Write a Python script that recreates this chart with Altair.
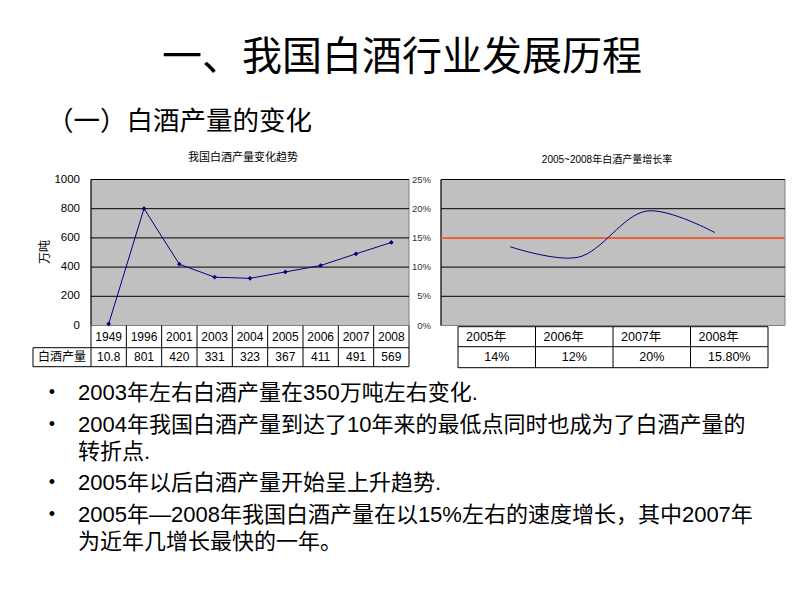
import altair as alt
import pandas as pd

# ---------------- data ----------------
years = ["1949", "1996", "2001", "2003", "2004", "2005", "2006", "2007", "2008"]
production = [10.8, 801, 420, 331, 323, 367, 411, 491, 569]
production_labels = ["10.8", "801", "420", "331", "323", "367", "411", "491", "569"]
prod_ticks = [0, 200, 400, 600, 800, 1000]

growth_years = [2005, 2006, 2007, 2008]
growth_curve = [13.5, 11.7, 19.6, 15.9]
growth_cols = ["2005年", "2006年", "2007年", "2008年"]
growth_labels = ["14%", "12%", "20%", "15.80%"]
pct_ticks = [0, 5, 10, 15, 20, 25]
reference_rate = 15

bullets = [
    ("•", "2003年左右白酒产量在350万吨左右变化."),
    ("•", "2004年我国白酒产量到达了10年来的最低点同时也成为了白酒产量的"),
    ("", "转折点."),
    ("•", "2005年以后白酒产量开始呈上升趋势."),
    ("•", "2005年—2008年我国白酒产量在以15%左右的速度增长，其中2007年"),
    ("", "为近年几增长最快的一年。"),
]

FONT = "Liberation Sans, Noto Sans CJK SC"
CJK = "Noto Sans CJK SC"

# ---------------- layout ----------------
TOP, BOT = 179.5, 325.5
L_X0, L_X1 = 91, 409
R_X0, R_X1 = 441, 785
LT_ROW1, LT_ROW2 = 347.7, 366.7
LT_LABEL_X = 33
RT_Y0, RT_Y1, RT_Y2 = 326.7, 346.7, 367.7
RT_X0, RT_X1 = 458, 768
CURVE_X0, CURVE_X1 = 510, 715

n = len(years)
lx = alt.Scale(domain=[0, n], range=[L_X0, L_X1])
ly = alt.Scale(domain=[0, 1000], range=[BOT, TOP])
rfx = alt.Scale(domain=[0, 1], range=[R_X0, R_X1])
rcx = alt.Scale(domain=[growth_years[0], growth_years[-1]], range=[CURVE_X0, CURVE_X1])
ry = alt.Scale(domain=[0, 25], range=[BOT, TOP])
m = len(growth_cols)
rtx = alt.Scale(domain=[0, m], range=[RT_X0, RT_X1])

layers = []


def label(text, x, y, size, align="center", angle=0, font=FONT, color="black", weight="normal"):
    return alt.Chart(pd.DataFrame({"t": [text]})).mark_text(
        align=align, baseline="middle", fontSize=size, angle=angle, font=font,
        color=color, fontWeight=weight
    ).encode(x=alt.value(x), y=alt.value(y), text="t:N")


# ---------- titles ----------
layers.append(label("一、我国白酒行业发展历程", 402, 58, 40, font=CJK))
layers.append(label("（一）白酒产量的变化", 47, 122, 26.5, align="left", font=CJK))

# ---------- left chart ----------
layers.append(label("我国白酒产量变化趋势", 243, 158, 11, font=CJK))
layers.append(label("万吨", 45, 252, 12, angle=270, font=CJK))

bg_l = pd.DataFrame({"a": [0], "b": [n], "lo": [0], "hi": [1000]})
layers.append(alt.Chart(bg_l).mark_rect(fill="#c0c0c0", stroke="#808080", strokeWidth=1).encode(
    x=alt.X("a:Q", scale=lx, axis=None), x2="b:Q",
    y=alt.Y("lo:Q", scale=ly, axis=None), y2="hi:Q"))

grid_l = pd.DataFrame({"v": prod_ticks[1:], "a": 0, "b": n})
layers.append(alt.Chart(grid_l).mark_rule(color="black", strokeWidth=1).encode(
    x=alt.X("a:Q", scale=lx, axis=None), x2="b:Q",
    y=alt.Y("v:Q", scale=ly, axis=None)))
# left axis line
layers.append(alt.Chart(pd.DataFrame({"a": [0], "lo": [0], "hi": [1000]})).mark_rule(color="black").encode(
    x=alt.X("a:Q", scale=lx, axis=None),
    y=alt.Y("lo:Q", scale=ly, axis=None), y2="hi:Q"))

ticks_l = pd.DataFrame({"v": prod_ticks, "t": [str(v) for v in prod_ticks]})
layers.append(alt.Chart(ticks_l).mark_text(align="right", baseline="middle", fontSize=11.5, font=FONT).encode(
    x=alt.value(80), y=alt.Y("v:Q", scale=ly, axis=None), text="t:N"))

prod_df = pd.DataFrame({"pos": [i + 0.5 for i in range(n)], "year": years,
                        "value": production, "label": production_labels})
layers.append(alt.Chart(prod_df).mark_line(color="#000080", strokeWidth=1).encode(
    x=alt.X("pos:Q", scale=lx, axis=None), y=alt.Y("value:Q", scale=ly, axis=None)))
layers.append(alt.Chart(prod_df).mark_point(shape="diamond", filled=True, color="#000080", size=22, opacity=1).encode(
    x=alt.X("pos:Q", scale=lx, axis=None), y=alt.Y("value:Q", scale=ly, axis=None)))

# table under left chart
vlines = pd.DataFrame({"b": list(range(n + 1))})
layers.append(alt.Chart(vlines).mark_rule(color="black").encode(
    x=alt.X("b:Q", scale=lx, axis=None), y=alt.value(BOT), y2=alt.value(LT_ROW2)))
for yy in [LT_ROW1, LT_ROW2]:
    layers.append(alt.Chart(pd.DataFrame({"b": [n]})).mark_rule(color="black").encode(
        x=alt.X("b:Q", scale=lx, axis=None), x2=alt.value(LT_LABEL_X), y=alt.value(yy)))
layers.append(alt.Chart(pd.DataFrame({"a": [0]})).mark_rule(color="black").encode(
    x=alt.value(LT_LABEL_X), y=alt.value(LT_ROW1), y2=alt.value(LT_ROW2)))
layers.append(alt.Chart(prod_df).mark_text(fontSize=12, font=FONT, baseline="middle").encode(
    x=alt.X("pos:Q", scale=lx, axis=None), y=alt.value((BOT + LT_ROW1) / 2), text="year:N"))
layers.append(alt.Chart(prod_df).mark_text(fontSize=12, font=FONT, baseline="middle").encode(
    x=alt.X("pos:Q", scale=lx, axis=None), y=alt.value((LT_ROW1 + LT_ROW2) / 2), text="label:N"))
layers.append(label("白酒产量", (LT_LABEL_X + L_X0) / 2, (LT_ROW1 + LT_ROW2) / 2, 12, font=CJK))

# ---------- right chart ----------
layers.append(label("2005~2008年白酒产量增长率", 607, 160, 10, font=FONT))

bg_r = pd.DataFrame({"a": [0], "b": [1], "lo": [0], "hi": [25]})
layers.append(alt.Chart(bg_r).mark_rect(fill="#c0c0c0", stroke="#808080", strokeWidth=1).encode(
    x=alt.X("a:Q", scale=rfx, axis=None), x2="b:Q",
    y=alt.Y("lo:Q", scale=ry, axis=None), y2="hi:Q"))
grid_r = pd.DataFrame({"v": pct_ticks[1:], "a": 0, "b": 1})
layers.append(alt.Chart(grid_r).mark_rule(color="black", strokeWidth=1).encode(
    x=alt.X("a:Q", scale=rfx, axis=None), x2="b:Q",
    y=alt.Y("v:Q", scale=ry, axis=None)))
layers.append(alt.Chart(pd.DataFrame({"a": [0], "lo": [0], "hi": [25]})).mark_rule(color="black").encode(
    x=alt.X("a:Q", scale=rfx, axis=None),
    y=alt.Y("lo:Q", scale=ry, axis=None), y2="hi:Q"))
layers.append(alt.Chart(pd.DataFrame({"v": [reference_rate], "a": [0], "b": [1]})).mark_rule(
    color="#e8643c", strokeWidth=2).encode(
    x=alt.X("a:Q", scale=rfx, axis=None), x2="b:Q",
    y=alt.Y("v:Q", scale=ry, axis=None)))
ticks_r = pd.DataFrame({"v": pct_ticks, "t": [f"{v}%" for v in pct_ticks]})
layers.append(alt.Chart(ticks_r).mark_text(align="right", baseline="middle", fontSize=9.5, font=FONT,
                                           color="#333333").encode(
    x=alt.value(431), y=alt.Y("v:Q", scale=ry, axis=None), text="t:N"))

growth_df = pd.DataFrame({"year": growth_years, "rate": growth_curve})
layers.append(alt.Chart(growth_df).mark_line(color="#000080", strokeWidth=1, interpolate="catmull-rom").encode(
    x=alt.X("year:Q", scale=rcx, axis=None), y=alt.Y("rate:Q", scale=ry, axis=None)))

# table under right chart
layers.append(alt.Chart(pd.DataFrame({"b": list(range(m + 1))})).mark_rule(color="black").encode(
    x=alt.X("b:Q", scale=rtx, axis=None), y=alt.value(RT_Y0), y2=alt.value(RT_Y2)))
for yy in [RT_Y0, RT_Y1, RT_Y2]:
    layers.append(alt.Chart(pd.DataFrame({"a": [0], "b": [m]})).mark_rule(color="black").encode(
        x=alt.X("a:Q", scale=rtx, axis=None), x2="b:Q", y=alt.value(yy)))
gt = pd.DataFrame({"start": list(range(m)), "mid": [i + 0.5 for i in range(m)],
                   "col": growth_cols, "lab": growth_labels})
layers.append(alt.Chart(gt).mark_text(align="left", fontSize=12.5, font=FONT, baseline="middle", dx=8).encode(
    x=alt.X("start:Q", scale=rtx, axis=None), y=alt.value((RT_Y0 + RT_Y1) / 2), text="col:N"))
layers.append(alt.Chart(gt).mark_text(align="center", fontSize=12.5, font=FONT, baseline="middle").encode(
    x=alt.X("mid:Q", scale=rtx, axis=None), y=alt.value((RT_Y1 + RT_Y2) / 2), text="lab:N"))

# ---------- bullets ----------
line_y = [393, 425, 452, 483, 515, 542]
for (b, t), yy in zip(bullets, line_y):
    if b:
        layers.append(label(b, 52, yy, 18, align="center"))
    layers.append(label(t, 78, yy, 22, align="left"))

chart = alt.layer(*layers).resolve_scale(x="independent", y="independent").properties(
    width=800, height=600, autosize=alt.AutoSizeParams(type="none"), padding=0,
    background="white"
).configure_view(stroke=None)

chart.save("out.html", embed_options={"renderer": "svg", "actions": False})
